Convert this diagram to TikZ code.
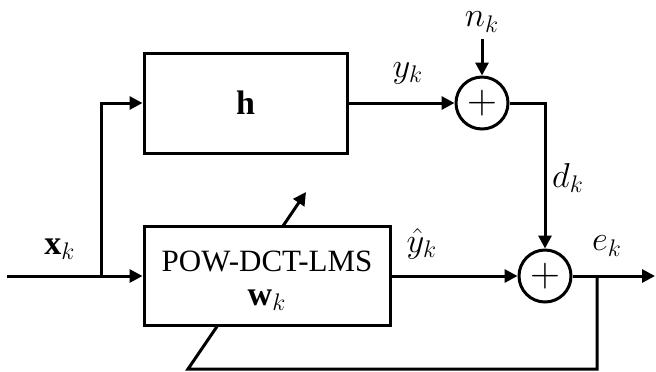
\documentclass[tikz,border=0pt]{standalone}
\usepackage{fontspec}
\setmainfont{Liberation Serif}
\usetikzlibrary{arrows.meta,positioning}

\begin{document}
\begin{tikzpicture}[x=0.5pt, y=-0.5pt,
    font=\fontsize{15.5}{20}\selectfont,
    block/.style={rectangle, draw, line width=1.5pt, align=center},
    adder/.style={circle, draw, line width=1.5pt, minimum size=26pt, inner sep=0pt, font=\fontsize{20}{20}\selectfont},
    sig/.style={font=\fontsize{17}{20}\selectfont},
    wire/.style={line width=1.5pt},
    arrow/.style={-{Triangle[length=6.5pt, width=6.5pt]}, line width=1.5pt}
]
    \useasboundingbox (0,0) rectangle (656,371);

    % Blocks
    \node[block, minimum width=101.5pt, minimum height=50pt] (hbox) at (245.5,103) {\fontsize{17}{20}\selectfont$\mathbf{h}$};
    \node[block, minimum width=123pt, minimum height=49.5pt] (lms) at (267,276) {};
    \node (lmsname) at (267,261) {POW-DCT-LMS};
    \node[sig] (lmsw) at (267,300) {$\mathbf{w}_k$};

    % Adders
    \node[adder] (sum1) at (482,103) {$+$};
    \node[adder] (sum2) at (545,276) {$+$};

    % Points
    \coordinate (in) at (7,276);
    \coordinate (split) at (101,276);
    \coordinate (out) at (655,276);
    \coordinate (tap) at (597,276);
    \coordinate (fb) at (188,369);
    \coordinate (fbend) at (218,325);
    \coordinate (adapt0) at (283,226);
    \coordinate (adapt) at (306,192);

    % Labels
    \node[sig] (nk) at (482,22) {$n_k$};
    \node[sig] (yk) at (408,73) {$y_k$};
    \node[sig] (yhat) at (422,244) {$\hat{y}_k$};
    \node[sig] (xk) at (60,249) {$\mathbf{x}_k$};
    \node[sig] (dk) at (568,178) {$d_k$};
    \node[sig] (ek) at (607,246) {$e_k$};

    % Arrows
    \draw[wire] (in) -- (split);
    \draw[arrow] (split) -- (lms);
    \draw[arrow] (split) |- (hbox);
    \draw[arrow] (hbox) -- (sum1);
    \draw[arrow] (nk) -- (sum1);
    \draw[arrow] (sum1) -| (sum2);
    \draw[arrow] (lms) -- (sum2);
    \draw[arrow] (sum2) -- (out);
    \draw[wire] (tap) |- (fb) -- (fbend);
    \draw[arrow] (adapt0) -- (adapt);
\end{tikzpicture}
\end{document}
